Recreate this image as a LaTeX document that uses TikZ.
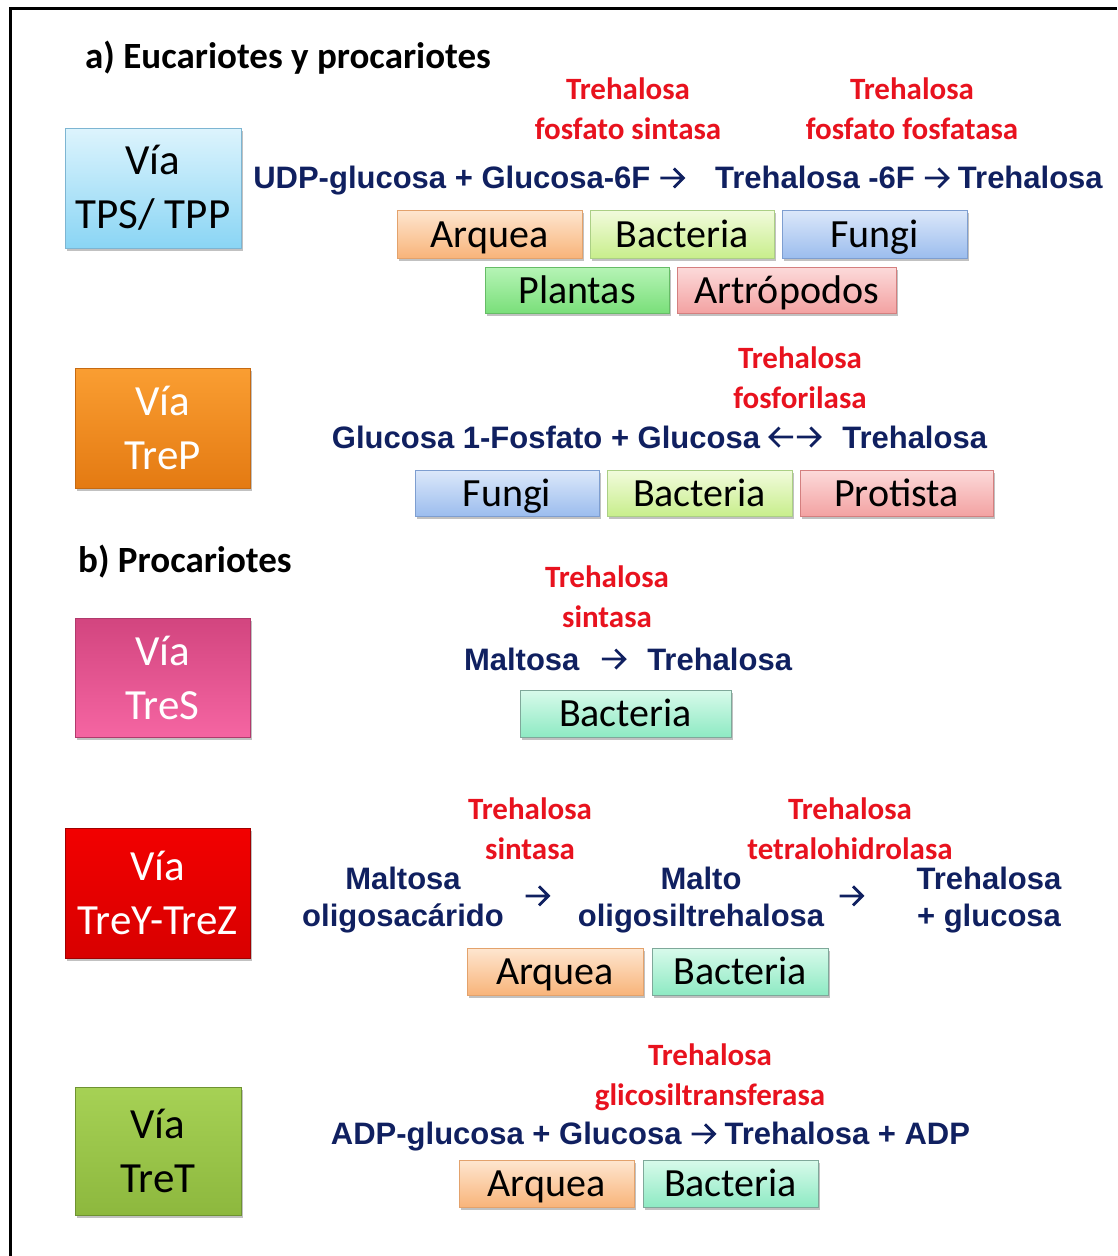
\documentclass[tikz,border=0pt]{standalone}
\usepackage{fontspec}
\setmainfont{Carlito}
\newfontfamily\eqfont{Liberation Sans}
\usepackage{tikz}
\usetikzlibrary{%
	positioning,%
	shadows,%
	calc
}
\definecolor{navy}{RGB}{16,32,96}
\definecolor{enzred}{RGB}{232,18,30}
% arrows as in the reactions (drawn, chevron heads)
\newcommand{\rarr}{\tikz[baseline=-11pt, x=1pt, y=1pt]{\draw[navy, line width=2.8pt, line join=miter]
	(0,0) -- (23,0) (13.5,9.5) -- (23,0) -- (13.5,-9.5);}}
\newcommand{\larr}{\tikz[baseline=-11pt, x=1pt, y=1pt]{\draw[navy, line width=2.8pt, line join=miter]
	(23,0) -- (0,0) (9.5,9.5) -- (0,0) -- (9.5,-9.5);}}
% colours of the boxes (T = top, B = bottom, D = border)
\definecolor{arqT}{HTML}{FEE6D0}\definecolor{arqB}{HTML}{F8B47A}\definecolor{arqD}{HTML}{E3A26C}
\definecolor{bacT}{HTML}{F2FBDD}\definecolor{bacB}{HTML}{C8EE8C}\definecolor{bacD}{HTML}{ABCF85}
\definecolor{funT}{HTML}{DCE8FA}\definecolor{funB}{HTML}{9CBDEE}\definecolor{funD}{HTML}{7E9ED0}
\definecolor{plaT}{HTML}{B6F4B6}\definecolor{plaB}{HTML}{7ADF7A}\definecolor{plaD}{HTML}{66BC66}
\definecolor{artT}{HTML}{FCDADA}\definecolor{artB}{HTML}{F3A2A2}\definecolor{artD}{HTML}{D47F7F}
\definecolor{minT}{HTML}{D8FAEB}\definecolor{minB}{HTML}{8EEAC3}\definecolor{minD}{HTML}{7FA89A}
\definecolor{tpsT}{HTML}{DDF4FD}\definecolor{tpsB}{HTML}{8AD5F4}\definecolor{tpsD}{HTML}{7DB5D2}
\definecolor{trpT}{HTML}{FA9E32}\definecolor{trpB}{HTML}{E47A12}\definecolor{trpD}{HTML}{C66A12}
\definecolor{trsT}{HTML}{D2457F}\definecolor{trsB}{HTML}{F565A2}\definecolor{trsD}{HTML}{B03A6C}
\definecolor{tyzT}{HTML}{F20000}\definecolor{tyzB}{HTML}{D80000}\definecolor{tyzD}{HTML}{A00000}
\definecolor{trtT}{HTML}{A6D155}\definecolor{trtB}{HTML}{8DB83E}\definecolor{trtD}{HTML}{6E9232}
\tikzstyle{boxshadow} = [drop shadow={shadow xshift=1.5pt, shadow yshift=-3pt, opacity=0.35, fill=black!70}]
\tikzstyle{via} = [rectangle, inner sep=0pt, draw=#1D, line width=0.8pt, top color=#1T, bottom color=#1B,
	boxshadow, align=center, font=\fontsize{43}{54}\selectfont]
\tikzstyle{org} = [rectangle, inner sep=0pt, draw=#1D, line width=0.8pt, top color=#1T, bottom color=#1B,
	boxshadow, font=\fontsize{40}{44}\selectfont, text=black, text height=26pt, text depth=0pt]
\tikzstyle{eq} = [inner sep=0pt, text=navy, font=\eqfont\bfseries\fontsize{31}{37}\selectfont, align=center]
\tikzstyle{enz} = [inner sep=0pt, text=enzred, font=\bfseries\fontsize{31}{40}\selectfont, align=center]
\tikzstyle{head} = [inner sep=0pt, anchor=west, font=\bfseries\fontsize{37}{40}\selectfont]

\begin{document}
\begin{tikzpicture}[x=1pt,y=-1pt]
	\useasboundingbox (0,0) rectangle (1117,1256);
	
	% Frame and section titles
	\draw[line width=3pt] (10,1256) -- (10,8) -- (1117,8);
	\node[head] (titA) at (85,58) {a) Eucariotes y procariotes};
	\node[head] (titB) at (78,562) {b) Procariotes};
	
	% First we draw the pathway boxes
	\foreach \pos/\name/\col/\w/\h/\tc/\txt in {
		{(153,188)/tps/tps/176/120/black/{V\'ia\\TPS/ TPP}},
		{(162.5,428)/trep/trp/175/120/white/{V\'ia\\TreP}},
		{(162.5,677.5)/tres/trs/175/119/white/{V\'ia\\TreS}},
		{(157.5,893)/treyz/tyz/185/130/white/{V\'ia\\TreY-TreZ}},
		{(158,1151)/tret/trt/166/128/black/{V\'ia\\TreT}}}
	\node[via=\col, minimum width=\w pt, minimum height=\h pt, text=\tc] (\name) at \pos {\txt};
	
	% Then the enzymes
	\foreach \pos/\name/\txt in {
		{(628,109)/enzA/Trehalosa\\fosfato sintasa},
		{(912,109)/enzB/Trehalosa\\fosfato fosfatasa},
		{(800,378)/enzP/Trehalosa\\fosforilasa},
		{(607,597)/enzS/Trehalosa\\sintasa},
		{(530,829)/enzY/Trehalosa\\sintasa},
		{(850,829)/enzZ/Trehalosa\\tetralohidrolasa},
		{(710,1077)/enzT/Trehalosa\\glicosiltransferasa}}
	\node[enz] (\name) at \pos {\txt};
	
	% Reactions
	\node[eq] (eqA) at (678,181) {UDP-glucosa + Glucosa-6F \rarr\hspace{0.7em} Trehalosa -6F \rarr{} Trehalosa};
	\node[eq] (eqP) at (659.5,437) {Glucosa 1-Fosfato + Glucosa \larr\kern1pt\rarr\hspace{0.4em} Trehalosa};
	\node[eq] (eqS) at (628,659) {Maltosa\hspace{0.4em} \rarr\hspace{0.4em} Trehalosa};
	\node[eq] (eqT) at (650.5,1137) {ADP-glucosa + Glucosa \rarr{} Trehalosa + ADP};
	\node[eq] (malY) at (403,900) {Maltosa\\oligosac\'arido};
	\node[eq] (arrY) at (537,896) {\rarr};
	\node[eq] (malZ) at (701,900) {Malto\\oligosiltrehalosa};
	\node[eq] (arrZ) at (851,896) {\rarr};
	\node[eq] (treZ) at (989,900) {Trehalosa\\+ glucosa};
	
	% Organisms
	\foreach \pos/\name/\col/\w/\h/\txt in {
		{(489.5,234)/arqA/arq/185/48/Arquea},
		{(682,234)/bacA/bac/184/48/Bacteria},
		{(874.5,234)/funA/fun/185/48/Fungi},
		{(577,290)/plaA/pla/184/46/Plantas},
		{(786.5,290)/artA/art/219/46/Artr\'opodos},
		{(507,493)/funP/fun/184/46/Fungi},
		{(699.5,493)/bacP/bac/185/46/Bacteria},
		{(896.5,493)/proP/art/193/46/Protista},
		{(625.5,713.5)/bacS/min/211/47/Bacteria},
		{(555,971.5)/arqY/arq/176/47/Arquea},
		{(740,971.5)/bacY/min/176/47/Bacteria},
		{(546.5,1183.5)/arqT/arq/175/47/Arquea},
		{(730.5,1183.5)/bacT/min/175/47/Bacteria}}
	\node[org=\col, minimum width=\w pt, minimum height=\h pt] (\name) at \pos {\txt};
	
\end{tikzpicture}
\end{document}
